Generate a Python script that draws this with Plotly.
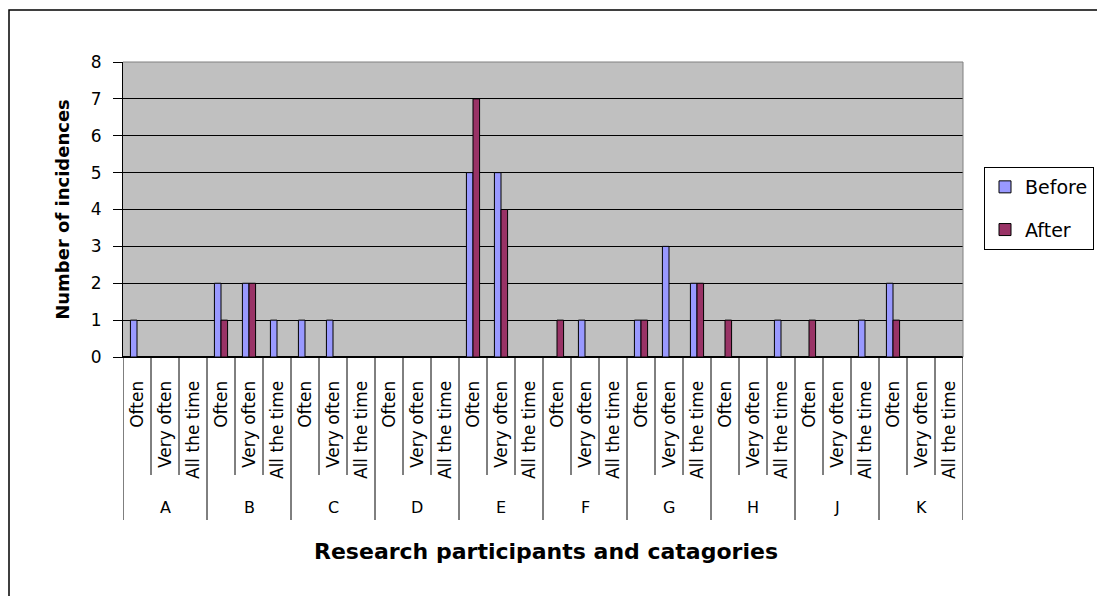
import plotly.graph_objects as go

participants = ["A", "B", "C", "D", "E", "F", "G", "H", "J", "K"]
frequency = ["Often", "Very often", "All the time"]

before = [1, 0, 0,
          2, 2, 1,
          1, 1, 0,
          0, 0, 0,
          5, 5, 0,
          0, 1, 0,
          1, 3, 2,
          0, 0, 1,
          0, 0, 1,
          2, 0, 0]
after = [0, 0, 0,
         1, 2, 0,
         0, 0, 0,
         0, 0, 0,
         7, 4, 0,
         1, 0, 0,
         1, 0, 2,
         1, 0, 0,
         1, 0, 0,
         1, 0, 0]

keys = [f"{p} {f}" for p in participants for f in frequency]
sub_labels = [f for _ in participants for f in frequency]

OFF = 8  # page body margin
W, H = 1105 - OFF, 596 - OFF
L, T = 123 - OFF, 62 - OFF
R = W - (963 - OFF)
B = H - (357 - OFF)
pw, ph = W - L - R, H - T - B


def py(ref_y):
    return 1 - (ref_y - OFF - T) / ph


def px(ref_x):
    return (ref_x - OFF - L) / pw


fig = go.Figure()
fig.add_trace(go.Bar(x=keys, y=before, name="Before", legendgroup="b",
                     marker=dict(color="#9999FF", line=dict(color="black", width=1))))
fig.add_trace(go.Bar(x=keys, y=after, name="After", legendgroup="a",
                     marker=dict(color="#993366", line=dict(color="black", width=1))))

font = "DejaVu Sans, Verdana, sans-serif"

shapes = [
    dict(type="rect", xref="paper", yref="paper",
         x0=px(OFF + 1), x1=px(1300), y0=py(900), y1=py(10),
         line=dict(color="black", width=1.5), layer="below"),
    dict(type="line", xref="paper", yref="paper", x0=0, x1=1, y0=1, y1=1,
         line=dict(color="#808080", width=1)),
    dict(type="line", xref="paper", yref="paper", x0=1, x1=1, y0=0, y1=1,
         line=dict(color="#808080", width=1)),
]
n = len(keys)
for i in range(n + 1):
    is_group = (i % len(frequency) == 0)
    shapes.append(dict(type="line", xref="x", yref="paper",
                       x0=i - 0.5, x1=i - 0.5, y0=0, y1=py(520 if is_group else 475),
                       line=dict(color="black", width=1)))

annotations = []
for g, p in enumerate(participants):
    annotations.append(dict(x=keys[g * len(frequency) + 1], y=py(507), xref="x", yref="paper",
                            text=p, showarrow=False, yanchor="middle",
                            font=dict(size=16, family=font, color="black")))
annotations.append(dict(x=px(546), y=py(551), xref="paper", yref="paper",
                        text="<b>Research participants and catagories</b>",
                        showarrow=False, xanchor="center", yanchor="middle",
                        font=dict(size=22, family=font, color="black")))

fig.update_layout(
    width=W, height=H,
    margin=dict(l=L, r=R, t=T, b=B, autoexpand=False),
    paper_bgcolor="white", plot_bgcolor="#C0C0C0",
    barmode="group", bargap=0.53, bargroupgap=0,
    font=dict(family=font, size=17, color="black"),
    showlegend=True,
    legend=dict(x=px(984), y=py(167), xanchor="left", yanchor="top",
                bordercolor="black", borderwidth=1, bgcolor="white",
                font=dict(size=19, family=font), itemwidth=30, tracegroupgap=15,
                traceorder="grouped"),
    xaxis=dict(type="category", tickmode="array", tickvals=keys, ticktext=sub_labels,
               tickangle=-90, ticks="", ticklabelstandoff=16,
               showline=True, linecolor="black", showgrid=False, automargin=False,
               range=[-0.5, n - 0.5],
               tickfont=dict(size=17, family=font)),
    yaxis=dict(range=[0, 8], dtick=1, ticks="outside", ticklen=9, tickcolor="black",
               showgrid=True, gridcolor="black", gridwidth=1, showline=True,
               linecolor="black", zeroline=True, zerolinecolor="black",
               automargin=False, ticklabelstandoff=8,
               tickfont=dict(size=17, family=font),
               title=dict(text="<b>Number of incidences</b>",
                          font=dict(size=18, family=font), standoff=16)),
    shapes=shapes,
    annotations=annotations,
)

fig.write_html("out.html")
